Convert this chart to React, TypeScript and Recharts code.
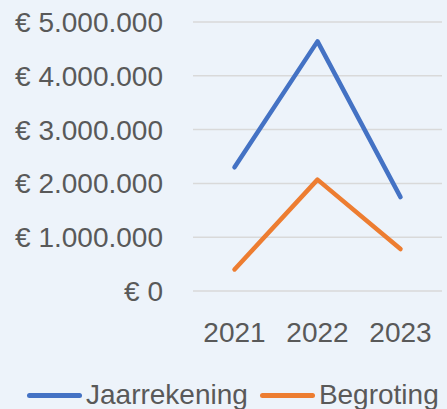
import { CartesianGrid, Legend, Line, LineChart, XAxis, YAxis } from "recharts";

const years = ["2021", "2022", "2023"];
const jaarrekening = [2300000, 4640000, 1745000];
const begroting = [400000, 2070000, 780000];
const yTicks = [0, 1000000, 2000000, 3000000, 4000000, 5000000];

const series = [
  { key: "jaarrekening", name: "Jaarrekening", color: "#4472C4" },
  { key: "begroting", name: "Begroting", color: "#ED7D31" },
];

const data = years.map((year, i) => ({
  year,
  jaarrekening: jaarrekening[i],
  begroting: begroting[i],
}));

const FONT = "'Liberation Sans', Arial, sans-serif";
const TEXT = "#595959";

// Nederlandse notatie: € 1.000.000
function euro(v: number) {
  if (v === 0) return "€ 0";
  return "€ " + String(v).replace(/\B(?=(\d{3})+(?!\d))/g, ".");
}

function LegendRow() {
  return (
    <div style={{ display: "flex", alignItems: "center", height: 28, fontFamily: FONT, fontSize: 28, color: TEXT }}>
      {series.map((s) => (
        <div key={s.key} style={{ display: "flex", alignItems: "center", marginRight: 12 }}>
          <div style={{ width: 55, height: 5, borderRadius: 3, background: s.color, marginRight: 4 }} />
          <span>{s.name}</span>
        </div>
      ))}
    </div>
  );
}

export default function App() {
  return (
    <div style={{ position: "absolute", left: 0, top: 0, width: 447, height: 409, background: "#EDF3FA" }}>
      <LineChart width={447} height={409} data={data} margin={{ top: 22, right: 5, bottom: 0, left: 0 }}>
        <CartesianGrid vertical={false} stroke="#D9D9D9" strokeWidth={1.5} />
        <XAxis
          dataKey="year"
          axisLine={false}
          tickLine={false}
          tickSize={0}
          tickMargin={31}
          height={90}
          padding={{ left: 41.5, right: 41.5 }}
          tick={{ fill: TEXT, fontSize: 28, fontFamily: FONT }}
        />
        <YAxis
          domain={[0, 5000000]}
          ticks={yTicks}
          tickFormatter={euro}
          axisLine={false}
          tickLine={false}
          tickSize={0}
          tickMargin={30}
          width={193}
          tick={{ fill: TEXT, fontSize: 28, fontFamily: FONT }}
        />
        {series.map((s) => (
          <Line
            key={s.key}
            dataKey={s.key}
            name={s.name}
            stroke={s.color}
            strokeWidth={4.5}
            strokeLinecap="round"
            strokeLinejoin="round"
            dot={false}
            isAnimationActive={false}
          />
        ))}
        <Legend verticalAlign="bottom" content={() => <LegendRow />} wrapperStyle={{ left: 27, width: 430 }} />
      </LineChart>
    </div>
  );
}
